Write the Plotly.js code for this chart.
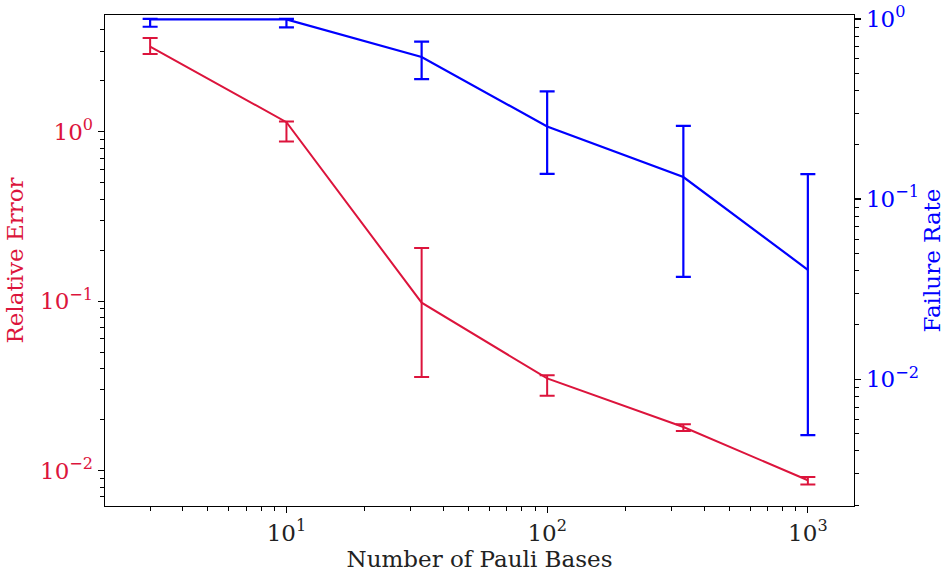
<!DOCTYPE html>
<html><head><meta charset="utf-8">
<script src="https://cdn.plot.ly/plotly-3.0.1.min.js"></script>
<style>html,body{margin:0;padding:0;background:#fff}</style>
</head><body><div id="chart" style="width:948px;height:576px"></div>
<script>
const numBases = [3, 10, 33, 100, 333, 1000];
const relError = [3.19, 1.14, 0.098, 0.035, 0.0181, 0.00877];
const relErrorHigh = [3.58, 1.15, 0.206, 0.0366, 0.0188, 0.00916];
const relErrorLow = [2.88, 0.877, 0.0357, 0.0277, 0.01714, 0.00827];
const failRate = [0.995, 0.995, 0.615, 0.253, 0.1325, 0.0405];
const failRateHigh = [1.0, 1.0, 0.748, 0.396, 0.255, 0.1377];
const failRateLow = [0.905, 0.898, 0.464, 0.138, 0.037, 0.00489];
const xTickVals = [10, 100, 1000];
const xTickText = ['10<sup>1</sup>', '10<sup>2</sup>', '10<sup>3</sup>'];
const yTickVals = [0.01, 0.1, 1];
const yTickText = ['10<sup>\u22122</sup>', '10<sup>\u22121</sup>', '10<sup>0</sup>'];

const RED = '#DC143C', BLUE = '#0000FF';
const FONT = 'DejaVu Serif';
const FS = 23;

function minorTicks(lo, hi) {
  const out = [];
  for (let p = lo; p <= hi; p++) for (let m = 2; m <= 9; m++) out.push(m * Math.pow(10, p));
  return out;
}

const trRed = {
  x: numBases, y: relError, type: 'scatter', mode: 'lines', yaxis: 'y',
  line: {color: RED, width: 2},
  error_y: {type: 'data', symmetric: false,
    array: relErrorHigh.map((v, i) => v - relError[i]),
    arrayminus: relError.map((v, i) => v - relErrorLow[i]),
    color: RED, thickness: 2, width: 7.5},
  showlegend: false, hoverinfo: 'skip'
};
const trBlue = {
  x: numBases, y: failRate, type: 'scatter', mode: 'lines', yaxis: 'y2',
  line: {color: BLUE, width: 2.2},
  error_y: {type: 'data', symmetric: false,
    array: failRateHigh.map((v, i) => v - failRate[i]),
    arrayminus: failRate.map((v, i) => v - failRateLow[i]),
    color: BLUE, thickness: 2.2, width: 7.5},
  showlegend: false, hoverinfo: 'skip'
};

const axisCommon = {
  type: 'log', showgrid: false, zeroline: false, showline: true,
  linecolor: '#000', linewidth: 1.3, ticks: 'outside', ticklen: 6, tickwidth: 1.2,
  tickcolor: '#000', tickmode: 'array'
};

const layout = {
  width: 948, height: 576,
  margin: {l: 105, r: 94, t: 15, b: 70},
  paper_bgcolor: '#fff', plot_bgcolor: '#fff',
  font: {family: FONT, size: FS, color: '#000'},
  xaxis: Object.assign({}, axisCommon, {
    range: [0.304, 3.177], mirror: true,
    tickvals: xTickVals, ticktext: xTickText,
    tickfont: {family: FONT, size: FS, color: '#222'},
    minor: {tickvals: minorTicks(0, 3), ticklen: 3.5, tickwidth: 1, tickcolor: '#000', ticks: 'outside'},
    title: {text: 'Number of Pauli Bases', font: {family: FONT, size: FS, color: '#222'}, standoff: 3}
  }),
  yaxis: Object.assign({}, axisCommon, {
    range: [-2.209, 0.690], side: 'left',
    tickvals: yTickVals, ticktext: yTickText,
    tickfont: {family: FONT, size: FS, color: RED},
    minor: {tickvals: minorTicks(-3, 0), ticklen: 3.5, tickwidth: 1, tickcolor: '#000', ticks: 'outside'},
    title: {text: 'Relative Error', font: {family: FONT, size: FS, color: RED}, standoff: 10}
  }),
  yaxis2: Object.assign({}, axisCommon, {
    range: [-2.704, 0.022], side: 'right', overlaying: 'y',
    tickvals: yTickVals, ticktext: yTickText,
    tickfont: {family: FONT, size: FS, color: BLUE},
    minor: {tickvals: minorTicks(-3, 0), ticklen: 3.5, tickwidth: 1, tickcolor: '#000', ticks: 'outside'},
    title: {text: 'Failure Rate', font: {family: FONT, size: FS, color: BLUE}, standoff: 6}
  })
};

Plotly.newPlot('chart', [trRed, trBlue], layout, {staticPlot: true, displayModeBar: false});
</script>
</body></html>
